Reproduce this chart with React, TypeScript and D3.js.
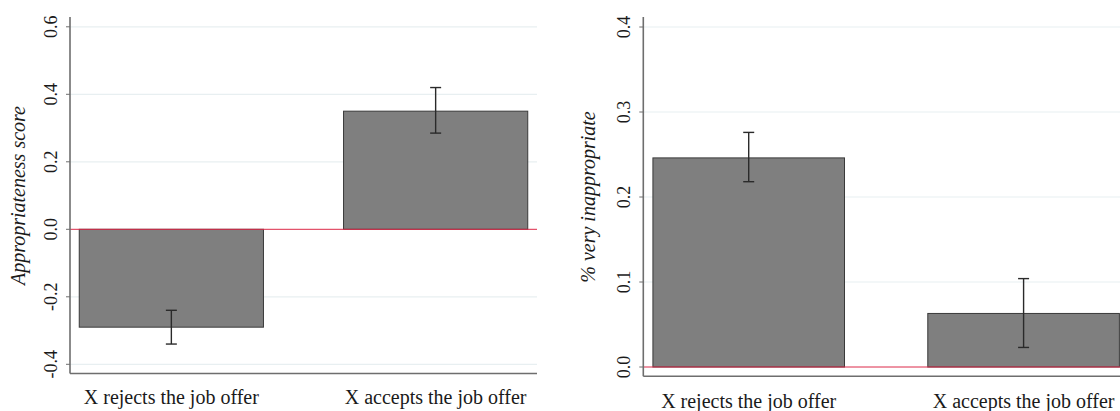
import React from "react";
import * as d3 from "d3";

// Categories shared by both panels
const categories = ["X rejects the job offer", "X accepts the job offer"];

// Panel A: appropriateness score (mean with 95% CI)
const scoreMean = [-0.29, 0.35];
const scoreLow = [-0.34, 0.285];
const scoreHigh = [-0.24, 0.42];
const scoreTicks = [-0.4, -0.2, 0.0, 0.2, 0.4, 0.6];

// Panel B: share rating "very inappropriate" (mean with 95% CI)
const veryMean = [0.246, 0.063];
const veryLow = [0.218, 0.023];
const veryHigh = [0.276, 0.104];
const veryTicks = [0.0, 0.1, 0.2, 0.3, 0.4];

const FONT = "'Liberation Serif', 'Times New Roman', serif";

type PanelProps = {
  title: string;
  mean: number[];
  low: number[];
  high: number[];
  ticks: number[];
  xRange: [number, number];
  yDomain: [number, number];
  yRange: [number, number];
  axisTop: number;
  axisBottom: number;
  titleX: number;
  labelY: number;
};

// one decimal, with a plain hyphen for negatives
const fmt = (v: number) => d3.format(".1f")(v).replace("\u2212", "-");

function Panel(p: PanelProps) {
  const x = d3
    .scaleBand<string>()
    .domain(categories)
    .range(p.xRange)
    .paddingInner(0.303)
    .paddingOuter(0.035);
  const y = d3.scaleLinear().domain(p.yDomain).range(p.yRange);
  const [x0, x1] = p.xRange;
  const bw = x.bandwidth();
  const capW = 11;
  const midY = (y(p.yDomain[0]) + y(p.yDomain[1])) / 2;

  return (
    <g>
      {/* gridlines */}
      {p.ticks
        .filter((t) => t !== 0)
        .map((t) => (
          <line key={"g" + t} x1={x0} x2={x1} y1={y(t)} y2={y(t)} stroke="#e8eff1" strokeWidth={1.2} />
        ))}
      {/* bars */}
      {categories.map((c, i) => {
        const v = p.mean[i];
        const top = Math.min(y(v), y(0));
        const h = Math.abs(y(v) - y(0));
        return (
          <rect key={"b" + c} x={x(c)} y={top} width={bw} height={h} fill="#7f7f7f" stroke="#3a3a3a" strokeWidth={1} />
        );
      })}
      {/* zero reference line */}
      <line x1={x0} x2={x1} y1={y(0)} y2={y(0)} stroke="#dc2848" strokeWidth={1} />
      {/* confidence intervals */}
      {categories.map((c, i) => {
        const cx = (x(c) as number) + bw / 2;
        return (
          <g key={"e" + c} stroke="#2a2a2a" strokeWidth={1.4}>
            <line x1={cx} x2={cx} y1={y(p.high[i])} y2={y(p.low[i])} />
            <line x1={cx - capW / 2} x2={cx + capW / 2} y1={y(p.high[i])} y2={y(p.high[i])} />
            <line x1={cx - capW / 2} x2={cx + capW / 2} y1={y(p.low[i])} y2={y(p.low[i])} />
          </g>
        );
      })}
      {/* axes */}
      <line x1={x0} x2={x0} y1={p.axisTop} y2={p.axisBottom} stroke="#6e6e6e" strokeWidth={1.6} />
      <line x1={x0} x2={x1} y1={p.axisBottom} y2={p.axisBottom} stroke="#6e6e6e" strokeWidth={1.6} />
      {p.ticks.map((t) => (
        <g key={"t" + t}>
          <line x1={x0 - 4} x2={x0} y1={y(t)} y2={y(t)} stroke="#6e6e6e" strokeWidth={1} />
          <text
            transform={`translate(${x0 - 13},${y(t)}) rotate(-90)`}
            textAnchor="middle"
            fontFamily={FONT}
            fontSize={18}
            fill="#1a1a1a"
          >
            {fmt(t)}
          </text>
        </g>
      ))}
      {categories.map((c) => (
        <text
          key={"l" + c}
          x={(x(c) as number) + bw / 2}
          y={p.labelY}
          textAnchor="middle"
          fontFamily={FONT}
          fontSize={20}
          fill="#1a1a1a"
        >
          {c}
        </text>
      ))}
      <text
        transform={`translate(${p.titleX},${midY}) rotate(-90)`}
        textAnchor="middle"
        fontFamily={FONT}
        fontSize={20}
        fontStyle="italic"
        fill="#1a1a1a"
      >
        {p.title}
      </text>
    </g>
  );
}

export default function App() {
  return (
    <svg
      width={1120}
      height={411}
      style={{ position: "absolute", left: 0, top: 0, background: "#ffffff" }}
    >
      <Panel
        title="Appropriateness score"
        mean={scoreMean}
        low={scoreLow}
        high={scoreHigh}
        ticks={scoreTicks}
        xRange={[70, 537]}
        yDomain={[-0.4, 0.6]}
        yRange={[364.3, 26.8]}
        axisTop={17}
        axisBottom={373.5}
        titleX={25}
        labelY={404}
      />
      <Panel
        title="% very inappropriate"
        mean={veryMean}
        low={veryLow}
        high={veryHigh}
        ticks={veryTicks}
        xRange={[643.3, 1129]}
        yDomain={[0, 0.4]}
        yRange={[367, 27]}
        axisTop={17}
        axisBottom={376.3}
        titleX={595}
        labelY={407.5}
      />
    </svg>
  );
}
